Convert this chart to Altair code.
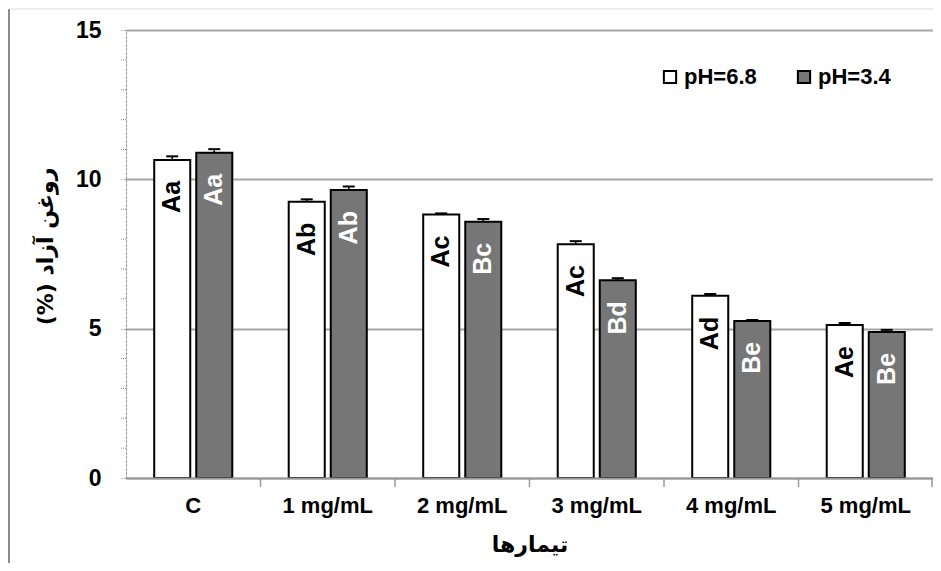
import altair as alt
import pandas as pd

categories = ["C", "1 mg/mL", "2 mg/mL", "3 mg/mL", "4 mg/mL", "5 mg/mL"]
series = ["pH=6.8", "pH=3.4"]
values_68 = [10.65, 9.25, 8.82, 7.83, 6.10, 5.12]
values_34 = [10.89, 9.64, 8.58, 6.62, 5.26, 4.89]
err_68 = [0.12, 0.08, 0.04, 0.10, 0.06, 0.07]
err_34 = [0.12, 0.12, 0.09, 0.07, 0.03, 0.07]
labels_68 = ["Aa", "Ab", "Ac", "Ac", "Ad", "Ae"]
labels_34 = ["Aa", "Ab", "Bc", "Bd", "Be", "Be"]
y_ticks = [0, 5, 10, 15]
y_minor = [1, 2, 3, 4, 6, 7, 8, 9, 11, 12, 13, 14]

y_title = "روغن آزاد (%)\u200f"
x_title = "تیمارها"

rows = []
for i, c in enumerate(categories):
    rows.append({"cat": c, "ph": series[0], "value": values_68[i],
                 "top": values_68[i] + err_68[i], "label": labels_68[i]})
    rows.append({"cat": c, "ph": series[1], "value": values_34[i],
                 "top": values_34[i] + err_34[i], "label": labels_34[i]})
df = pd.DataFrame(rows)
df_cats = pd.DataFrame({"cat": categories[1:]})
df_minor = pd.DataFrame({"value": y_minor})
df_one = pd.DataFrame({"a": [0]})

W, H = 807, 448
SANS = "Liberation Sans, Arial"
ARAB = "DejaVu Sans"

X = alt.X("cat:N", sort=categories,
          scale=alt.Scale(paddingInner=0, paddingOuter=0),
          axis=alt.Axis(title=x_title, labelAngle=0, ticks=False,
                        domainColor="#999999", domainWidth=2,
                        labelFont=SANS, labelFontSize=22, labelFontWeight="bold",
                        labelColor="black", labelPadding=17,
                        titleFont=ARAB, titleFontSize=22, titleFontWeight="bold",
                        titleColor="black", titlePadding=18, zindex=1))
XO = alt.XOffset("ph:N", sort=series,
                 scale=alt.Scale(paddingInner=0.143, paddingOuter=0.671))

color = alt.Color("ph:N", sort=series,
                  scale=alt.Scale(domain=series, range=["#ffffff", "#767676"]),
                  legend=alt.Legend(title=None, orient="none", legendX=533, legendY=36,
                                    direction="horizontal", symbolType="square",
                                    symbolSize=150, symbolStrokeColor="black",
                                    symbolStrokeWidth=2, labelFont=SANS,
                                    labelFontSize=22, labelFontWeight="bold",
                                    labelColor="black", columnPadding=36,
                                    labelOffset=3, padding=0))

yaxis = alt.Axis(title=y_title, values=y_ticks, grid=True, gridColor="#a6a6a6",
                 gridWidth=2, domainColor="#888888", domainDash=[2, 2],
                 tickColor="#888888", tickDash=[2, 2], tickSize=5,
                 labelFont=SANS, labelFontSize=23, labelFontWeight="bold",
                 labelColor="black", labelPadding=20,
                 titleFont=ARAB, titleFontSize=22, titleFontWeight="bold",
                 titleColor="black", titleX=-81, titleY=216, titleBaseline="middle")
Y = alt.Y("value:Q", scale=alt.Scale(domain=[0, 15], nice=False), axis=yaxis)

base = alt.Chart(df).encode(x=X, xOffset=XO)

bars = base.mark_bar(stroke="black", strokeWidth=2).encode(y=Y, color=color)
err = base.mark_rule(color="black", strokeWidth=1.5).encode(y="value:Q", y2="top:Q")
caps = base.mark_tick(color="black", thickness=2, size=12, opacity=1).encode(y="top:Q")

txt_w = base.transform_filter(alt.datum.ph == series[0]).mark_text(
    angle=270, align="right", baseline="middle", dx=-21, font=SANS,
    fontSize=25, fontWeight="bold", color="black").encode(y="value:Q", text="label:N")
txt_g = base.transform_filter(alt.datum.ph == series[1]).mark_text(
    angle=270, align="right", baseline="middle", dx=-21, font=SANS,
    fontSize=25, fontWeight="bold", color="white").encode(y="value:Q", text="label:N")

bticks = alt.Chart(df_cats).mark_rule(color="#999999", strokeWidth=1.5).encode(
    x=alt.X("cat:N", sort=categories, bandPosition=0),
    y=alt.value(H), y2=alt.value(H + 9))
end_tick = alt.Chart(df_one).mark_rule(color="#999999", strokeWidth=1.5).encode(
    x=alt.value(W - 1), y=alt.value(H), y2=alt.value(H + 9))

minor = alt.Chart(df_minor).mark_rule(color="#888888", strokeDash=[1, 1]).encode(
    y="value:Q", x=alt.value(-5), x2=alt.value(0))

frame_v = alt.Chart(df_one).mark_rule(color="#8a8a8a", strokeWidth=2).encode(
    x=alt.value(-117), y=alt.value(-21), y2=alt.value(H + 90))
frame_h = alt.Chart(df_one).mark_rule(color="#dddddd", strokeWidth=1).encode(
    x=alt.value(-117), x2=alt.value(W + 10), y=alt.value(-21))

chart = alt.layer(bars, err, caps, txt_w, txt_g, bticks, end_tick, minor,
                  frame_v, frame_h).properties(
    width=W, height=H,
    autosize=alt.AutoSizeParams(type="none"),
    padding={"left": 118, "top": 22, "right": 0, "bottom": 85},
).configure_view(stroke=None).configure(background="white")

chart.save("out.html", embed_options={"renderer": "svg", "actions": False})
